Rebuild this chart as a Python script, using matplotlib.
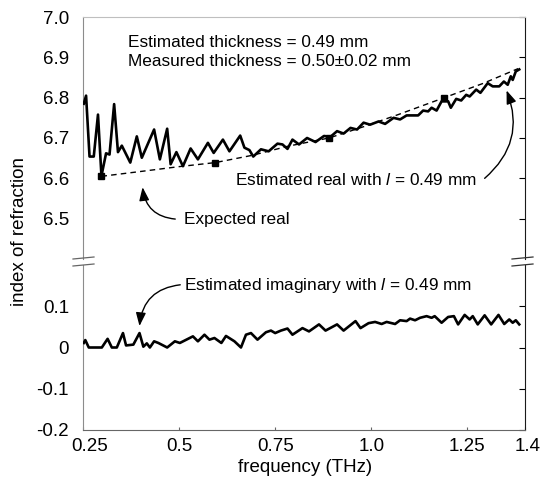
import numpy as np
import matplotlib.pyplot as plt
from matplotlib.lines import Line2D
from matplotlib.transforms import ScaledTranslation

plt.switch_backend("Agg")
plt.rcParams['font.family'] = ['Liberation Sans', 'DejaVu Sans']
plt.rcParams['axes.unicode_minus'] = False
plt.rcParams['mathtext.fontset'] = 'custom'
plt.rcParams['mathtext.it'] = 'Liberation Sans:italic'
plt.rcParams['mathtext.rm'] = 'Liberation Sans'

# --- dados ---
freq_real = [0.252, 0.258, 0.267, 0.278, 0.289, 0.298, 0.310, 0.319, 0.331, 0.341,
             0.351, 0.373, 0.390, 0.403, 0.435, 0.450, 0.469, 0.478, 0.493, 0.510,
             0.530, 0.549, 0.575, 0.590, 0.614, 0.631, 0.659, 0.670, 0.683, 0.693,
             0.713, 0.733, 0.756, 0.769, 0.782, 0.795, 0.812, 0.833, 0.855, 0.877,
             0.894, 0.911, 0.928, 0.946, 0.963, 0.980, 0.997, 1.019, 1.036, 1.058,
             1.075, 1.092, 1.122, 1.135, 1.148, 1.157, 1.170, 1.183, 1.200, 1.207,
             1.221, 1.234, 1.247, 1.256, 1.273, 1.284, 1.303, 1.316, 1.333, 1.345,
             1.355, 1.363, 1.368, 1.376, 1.385]
n_real = [6.785, 6.805, 6.654, 6.654, 6.758, 6.606, 6.662, 6.659, 6.784, 6.665,
          6.681, 6.639, 6.704, 6.651, 6.721, 6.647, 6.723, 6.635, 6.665, 6.630,
          6.674, 6.647, 6.688, 6.663, 6.696, 6.667, 6.706, 6.676, 6.670, 6.654,
          6.672, 6.667, 6.686, 6.684, 6.673, 6.696, 6.684, 6.700, 6.690, 6.705,
          6.703, 6.717, 6.711, 6.725, 6.721, 6.738, 6.733, 6.741, 6.735, 6.750,
          6.746, 6.756, 6.756, 6.768, 6.766, 6.775, 6.768, 6.791, 6.791, 6.775,
          6.797, 6.793, 6.807, 6.803, 6.820, 6.812, 6.836, 6.828, 6.828, 6.840,
          6.832, 6.853, 6.844, 6.865, 6.870]

freq_exp = [0.298, 0.40, 0.50, 0.594, 0.69, 0.785, 0.89, 0.98, 1.07, 1.19, 1.29, 1.382]
n_exp = [6.605, 6.617, 6.629, 6.639, 6.657, 6.680, 6.700, 6.728, 6.758, 6.800, 6.835, 6.872]
exp_markers = [0, 3, 6, 9]

freq_imag = [0.252, 0.256, 0.265, 0.299, 0.314, 0.325, 0.338, 0.354, 0.362, 0.381,
             0.397, 0.407, 0.416, 0.424, 0.435, 0.446, 0.469, 0.489, 0.502, 0.536,
             0.549, 0.566, 0.579, 0.592, 0.610, 0.622, 0.644, 0.661, 0.674, 0.687,
             0.704, 0.726, 0.739, 0.750, 0.765, 0.782, 0.795, 0.821, 0.838, 0.864,
             0.881, 0.911, 0.928, 0.959, 0.972, 0.993, 1.010, 1.027, 1.040, 1.062,
             1.075, 1.092, 1.101, 1.114, 1.127, 1.144, 1.157, 1.165, 1.183, 1.200,
             1.215, 1.226, 1.243, 1.256, 1.264, 1.277, 1.295, 1.312, 1.331, 1.346,
             1.359, 1.368, 1.376, 1.385]
n_imag = [0.011, 0.018, 0.000, 0.000, 0.021, 0.000, 0.000, 0.035, 0.005, 0.007,
          0.035, 0.002, 0.010, 0.000, 0.015, 0.011, 0.000, 0.015, 0.011, 0.027,
          0.015, 0.031, 0.019, 0.023, 0.011, 0.028, 0.015, 0.000, 0.031, 0.035,
          0.019, 0.037, 0.041, 0.035, 0.041, 0.046, 0.031, 0.047, 0.039, 0.056,
          0.041, 0.056, 0.041, 0.064, 0.047, 0.059, 0.062, 0.057, 0.062, 0.057,
          0.066, 0.064, 0.070, 0.066, 0.072, 0.076, 0.072, 0.076, 0.060, 0.074,
          0.076, 0.056, 0.079, 0.068, 0.076, 0.056, 0.078, 0.056, 0.079, 0.057,
          0.068, 0.060, 0.066, 0.056]

xticks = [0.25, 0.5, 0.75, 1.0, 1.25, 1.4]
xtick_labels = ["0.25", "0.5", "0.75", "1.0", "1.25", "1.4"]
yticks_top = [6.5, 6.6, 6.7, 6.8, 6.9, 7.0]
yticks_bot = [-0.2, -0.1, 0.0, 0.1]
ytick_labels_bot = ["-0.2", "-0.1", "0", "0.1"]

W, H = 543, 479
fig = plt.figure(figsize=(W / 100, H / 100), dpi=100)
L, R = 83 / W, 525 / W
ax_top = fig.add_axes([L, 1 - 259 / H, R - L, (259 - 17) / H])
ax_bot = fig.add_axes([L, 1 - 430 / H, R - L, (430 - 265) / H])

FS_TICK = 13.5
FS_TXT = 12.4

for ax in (ax_top, ax_bot):
    ax.set_xlim(0.25, 1.4)
    ax.spines['left'].set_color('0.55')
    ax.spines['right'].set_color('0.1')
    ax.tick_params(axis='y', direction='in', left=False, right=True, labelleft=True,
                   length=4, width=0.8, pad=10, labelsize=FS_TICK, colors='black')
    ax.set_xticks(xticks)

# painel de cima (parte real)
ax_top.set_ylim(6.4, 7.0)
ax_top.set_yticks(yticks_top)
ax_top.set_yticklabels([f"{v:.1f}" for v in yticks_top])
ax_top.spines['bottom'].set_visible(False)
ax_top.spines['top'].set_color('0.75')
ax_top.tick_params(axis='x', bottom=False, labelbottom=False)

ax_top.plot(freq_real, n_real, color='black', lw=1.9, zorder=3)
ax_top.plot(freq_exp, n_exp, color='black', lw=1.0, ls=(0, (4, 3)),
            marker='s', ms=4.5, markevery=exp_markers, zorder=2)

ax_top.text(0.366, 6.938, "Estimated thickness = 0.49 mm", fontsize=FS_TXT, va='center')
ax_top.text(0.366, 6.889, "Measured thickness = 0.50\u00b10.02 mm", fontsize=FS_TXT, va='center')
ax_top.text(0.645, 6.597, r"Estimated real with $\mathit{l}$ = 0.49 mm", fontsize=FS_TXT, va='center')
ax_top.text(0.514, 6.499, "Expected real", fontsize=FS_TXT, va='center')

arrow = dict(arrowstyle='-|>,head_length=0.8,head_width=0.3', color='black', lw=1.0,
             shrinkA=0, shrinkB=0)
ax_top.annotate("", xy=(1.352, 6.818), xytext=(1.295, 6.600),
                arrowprops=dict(arrow, connectionstyle="arc3,rad=0.35"))
ax_top.annotate("", xy=(0.405, 6.578), xytext=(0.490, 6.499),
                arrowprops=dict(arrow, connectionstyle="arc3,rad=-0.4"))

# painel de baixo (parte imaginária)
ax_bot.set_ylim(-0.2, 0.2)
ax_bot.set_yticks(yticks_bot)
ax_bot.set_yticklabels(ytick_labels_bot)
ax_bot.spines['top'].set_visible(False)
ax_bot.spines['bottom'].set_color('0.4')
ax_bot.set_xticklabels(xtick_labels)
ax_bot.tick_params(axis='x', direction='in', length=2, width=0.8, pad=6,
                   labelsize=FS_TICK, color='0.4')

ax_bot.plot(freq_imag, n_imag, color='black', lw=1.9, zorder=3)
ax_bot.text(0.514, 0.150, r"Estimated imaginary with $\mathit{l}$ = 0.49 mm",
            fontsize=FS_TXT, va='center')
ax_bot.annotate("", xy=(0.397, 0.052), xytext=(0.503, 0.152),
                arrowprops=dict(arrow, connectionstyle="arc3,rad=0.4"))

# deslocar os rótulos extremos do eixo x como no original
labels = ax_bot.get_xticklabels()
labels[0].set_transform(labels[0].get_transform() + ScaledTranslation(7 / 100, 0, fig.dpi_scale_trans))
labels[-1].set_transform(labels[-1].get_transform() + ScaledTranslation(3 / 100, 0, fig.dpi_scale_trans))

# marcas de quebra do eixo
for x0, x1, col in [(73, 94, '0.4'), (512, 533, '0.2')]:
    for yy in (258, 265):
        fig.add_artist(Line2D([x0 / W, x1 / W], [1 - (yy + 1) / H, 1 - (yy - 1) / H],
                              color=col, lw=0.9))

fig.text(20 / W, 1 - 232 / H, "index of refraction", rotation=90, fontsize=13.5,
         ha='center', va='center')
fig.text(305 / W, 1 - 467 / H, "frequency (THz)", fontsize=13.5, ha='center', va='center')

fig.savefig("out.png", dpi=100)
plt.close(fig)
